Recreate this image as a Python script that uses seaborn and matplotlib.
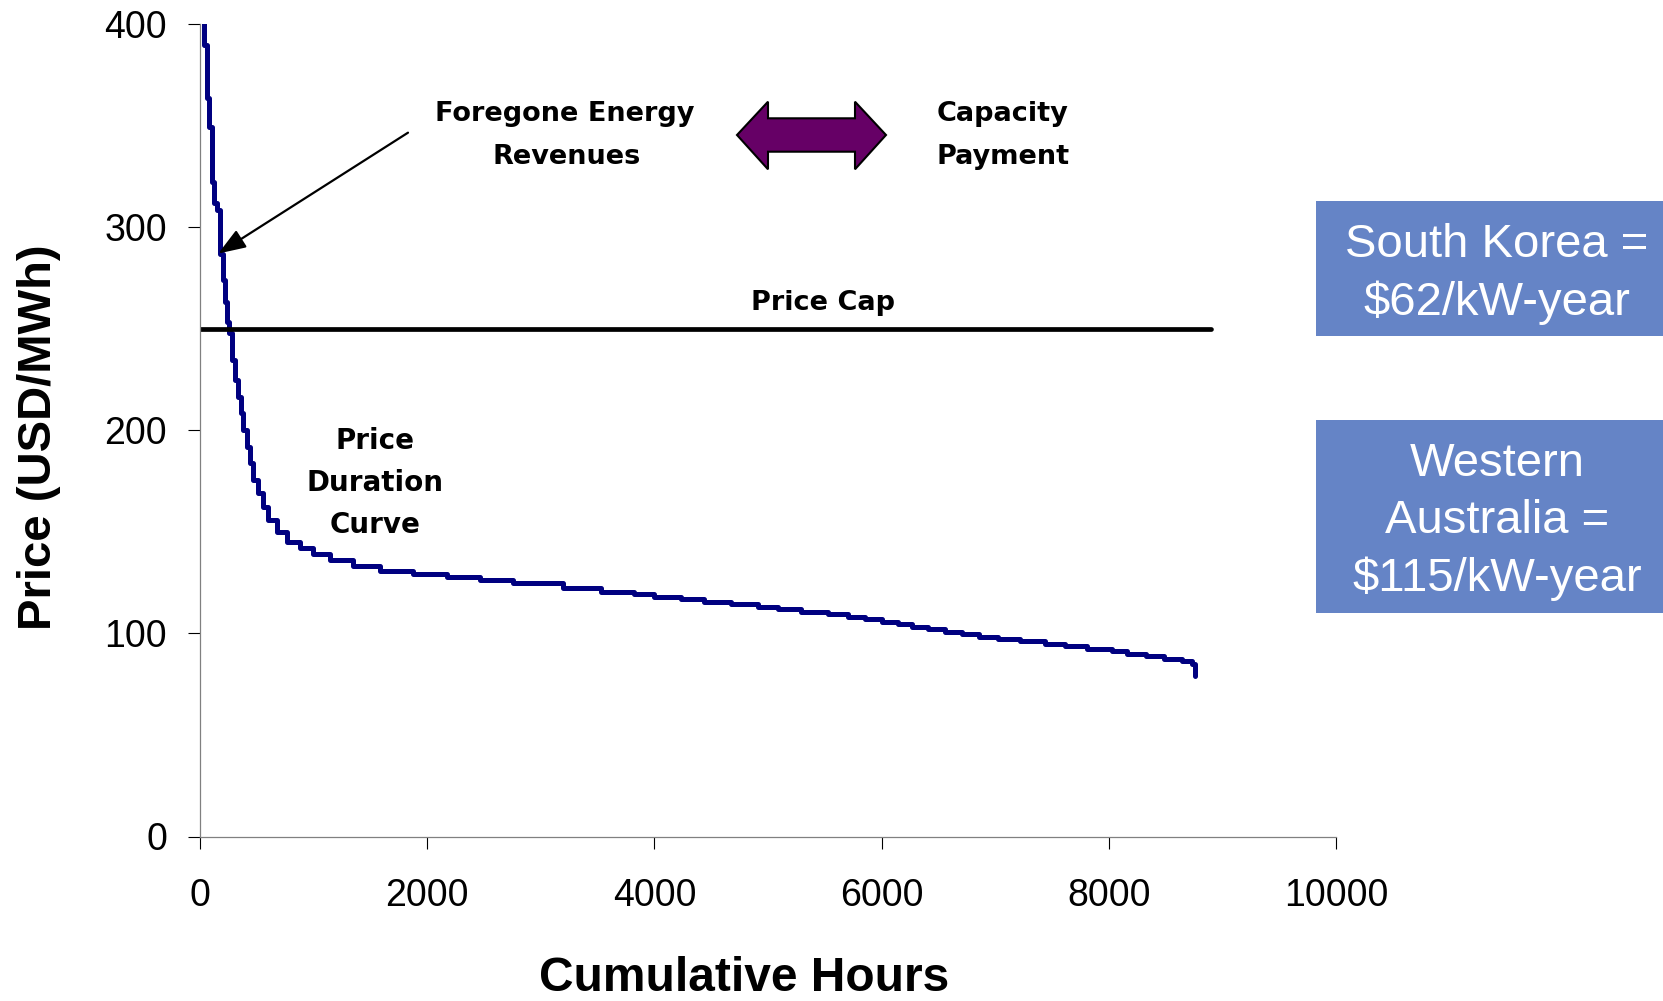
import matplotlib
matplotlib.use("Agg")
import matplotlib.pyplot as plt
from matplotlib.patches import Polygon, Rectangle
import seaborn as sns
import pandas as pd

# Price duration curve: cumulative hours vs. hourly price (USD/MWh), sorted high to low
hours = [35, 59, 82, 106, 126, 152, 176, 200, 220, 241, 258, 279, 308, 337,
         360, 381, 411, 440, 469, 513, 557, 601, 675, 763, 880, 998, 1144,
         1350, 1585, 1878, 2172, 2465, 2758, 3198, 3530, 3823, 4000, 4235,
         4441, 4676, 4912, 5088, 5294, 5529, 5706, 5853, 6000, 6147, 6265,
         6412, 6559, 6706, 6853, 7029, 7221, 7441, 7618, 7809, 8029, 8162,
         8324, 8485, 8647, 8735, 8760, 8760]
prices = [420, 389.7, 363.5, 349.5, 322.4, 312, 308.5, 287, 274, 263, 253.5,
          247.7, 234.6, 224.8, 216.5, 208.4, 200.1, 191.9, 183.7, 175.5, 169,
          162.4, 155.8, 150.1, 145.2, 141.9, 139.1, 136.1, 133.2, 130.9, 129.2,
          127.6, 126.3, 124.7, 122.2, 120.5, 119.2, 118.1, 116.8, 115.5, 114.5,
          113.1, 111.9, 110.7, 109.6, 108.2, 106.9, 105.8, 104.6, 103.3, 102.0,
          100.8, 99.7, 98.4, 97.2, 96.1, 94.9, 93.8, 92.5, 91.3, 90.0, 88.7,
          87.4, 86.6, 85.0, 79.0]

price_cap = 250
cap_hours = [0, 8900]

x_ticks = [0, 2000, 4000, 6000, 8000, 10000]
y_ticks = [0, 100, 200, 300, 400]

capacity_notes = [
    ["South Korea =", "$62/kW-year"],
    ["Western", "Australia =", "$115/kW-year"],
]

curve = pd.DataFrame({"hours": hours, "price": prices})
cap = pd.DataFrame({"hours": cap_hours, "price": [price_cap] * len(cap_hours)})

sns.set_theme(style="ticks")
plt.rcParams["font.family"] = ["Liberation Sans", "DejaVu Sans"]
plt.rcParams["text.color"] = "black"
plt.rcParams["axes.labelcolor"] = "black"

W, H = 1663, 1001
fig = plt.figure(figsize=(W / 100, H / 100), dpi=100)
fig.patch.set_facecolor("white")
ax = fig.add_axes([200 / W, 1 - 836.5 / H, 1136 / W, 812.5 / H])


def fx(px):
    return px / W


def fy(py):
    return 1 - py / H


sns.lineplot(data=curve, x="hours", y="price", ax=ax, color="#000080",
             linewidth=3.6, drawstyle="steps-pre", estimator=None, sort=False)
sns.lineplot(data=cap, x="hours", y="price", ax=ax, color="black",
             linewidth=3.4, estimator=None, sort=False)

ax.set_xlim(0, 10000)
ax.set_ylim(0, 400)
ax.set_xticks(x_ticks)
ax.set_yticks(y_ticks)
ax.set_xticklabels([str(t) for t in x_ticks])
ax.set_yticklabels([str(t) for t in y_ticks])
ax.tick_params(axis="both", labelsize=27, length=8.6, width=0.8,
               color="black", labelcolor="black", direction="out")
ax.tick_params(axis="x", pad=21)
ax.tick_params(axis="y", pad=15)
for side in ("top", "right"):
    ax.spines[side].set_visible(False)
for side in ("left", "bottom"):
    ax.spines[side].set_color("#808080")
    ax.spines[side].set_linewidth(0.9)

ax.set_xlabel("Cumulative Hours", fontsize=34.5, fontweight="bold",
              va="center", color="black")
ax.xaxis.set_label_coords(0.479, -0.175)
ax.set_ylabel("Price (USD/MWh)", fontsize=34, fontweight="bold",
              va="center", color="black")
ax.yaxis.set_label_coords(-0.142, 0.492)

# Annotations inside the plot
bold = dict(fontweight="bold", color="black", ha="center", va="baseline",
            family="DejaVu Sans")
fig.text(fx(565), fy(121), "Foregone Energy", fontsize=19.5, **bold)
fig.text(fx(567), fy(164), "Revenues", fontsize=19.5, **bold)
fig.text(fx(1003), fy(121), "Capacity", fontsize=19.5, **bold)
fig.text(fx(1003), fy(164), "Payment", fontsize=19.5, **bold)
fig.text(fx(823), fy(310), "Price Cap", fontsize=19.5, **bold)
fig.text(fx(375), fy(449), "Price", fontsize=20, **bold)
fig.text(fx(375), fy(491), "Duration", fontsize=20, **bold)
fig.text(fx(375), fy(533), "Curve", fontsize=20, **bold)

# Arrow pointing at the portion of the curve above the price cap
ax.annotate("", xy=(161, 287), xytext=(1831, 346.5),
            arrowprops=dict(arrowstyle="-|>,head_length=0.6,head_width=0.22",
                            color="black", lw=1.6, mutation_scale=28,
                            shrinkA=0, shrinkB=0))

# Purple double-headed arrow between the two concepts
arrow_px = [(737, 135), (768, 101.7), (768, 118.3), (855, 118.3),
            (855, 101.7), (886, 135), (855, 169.3), (855, 151.7),
            (768, 151.7), (768, 169.3)]
fig.patches.append(Polygon([(fx(x), fy(y)) for x, y in arrow_px], closed=True,
                           transform=fig.transFigure, facecolor="#660066",
                           edgecolor="black", linewidth=1.5))

# Capacity payment boxes on the right
box_color = "#6584C6"
boxes = [(201, 336), (420, 613)]
baselines = [[257, 315], [476, 533, 591]]
for (top, bottom), lines, bases in zip(boxes, capacity_notes, baselines):
    fig.patches.append(Rectangle((fx(1316), fy(bottom)), fx(W - 1316),
                                 (bottom - top) / H, transform=fig.transFigure,
                                 facecolor=box_color, edgecolor="none"))
    for line, base in zip(lines, bases):
        fig.text(fx(1497), fy(base), line, fontsize=34, color="white",
                 ha="center", va="baseline")

fig.savefig("out.png", dpi=100, facecolor="white")
